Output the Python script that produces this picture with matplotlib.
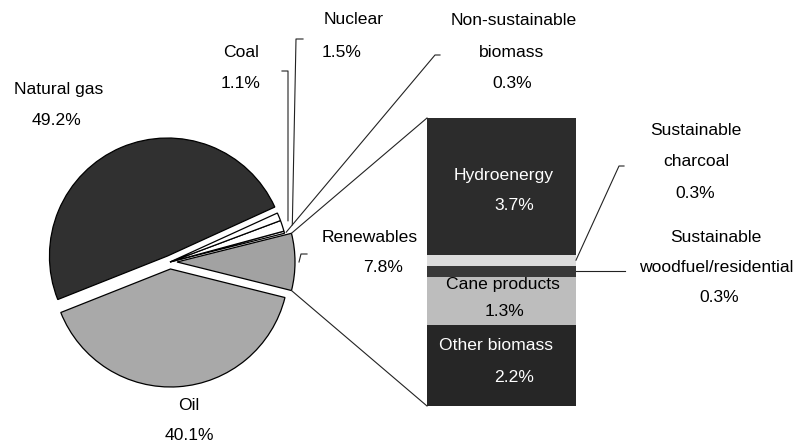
import numpy as np
import matplotlib
matplotlib.use('Agg')
import matplotlib.pyplot as plt

plt.rcParams['font.family'] = ['Liberation Sans', 'DejaVu Sans']

W, H = 798, 443

# pie slices, counter-clockwise starting with renewables
pie_labels = ['Renewables', 'Non-sustainable\nbiomass', 'Nuclear', 'Coal', 'Natural gas', 'Oil']
pie_values = [7.8, 0.3, 1.5, 1.1, 49.2, 40.1]
pie_colors = ['#a2a2a2', 'white', 'white', 'white', '#303030', '#a9a9a9']
pie_explode = [7, 0, 0, 0, 6.5, 7]   # offsets in pixels (pie radius is 118)

# renewables breakdown, bottom to top
bar_labels = ['Other biomass', 'Cane products', 'Sustainable\nwoodfuel/residential',
              'Sustainable\ncharcoal', 'Hydroenergy']
bar_values = [2.2, 1.3, 0.3, 0.3, 3.7]
bar_colors = ['#262626', '#bdbdbd', '#383838', '#dcdcdc', '#2c2c2c']


def px(x, y):
    # pixel position (y from top) -> data coords
    return x, H - y


fig = plt.figure(figsize=(W / 100, H / 100), dpi=100)
ax = fig.add_axes([0, 0, 1, 1])

wedges, _ = ax.pie(pie_values, colors=pie_colors, explode=pie_explode,
                   startangle=-14, counterclock=True, radius=118,
                   center=px(170, 262),
                   wedgeprops=dict(edgecolor='black', linewidth=0.9))

ax.set_xlim(0, W)
ax.set_ylim(0, H)
ax.set_aspect('auto')
ax.axis('off')


def rim(w, ang):
    cx, cy = w.center
    a = np.deg2rad(ang)
    return cx + w.r * np.cos(a), cy + w.r * np.sin(a)


# stacked bar for renewables
bar_x, bar_w = 501.5, 149
bar_top, bar_bot = 118, 406
scale = (bar_bot - bar_top) / sum(bar_values)
heights = np.array(bar_values) * scale
bottoms = (H - bar_bot) + np.concatenate([[0], np.cumsum(heights)[:-1]])
ax.bar(bar_x, heights, bottom=bottoms, width=bar_w, color=bar_colors,
       edgecolor='none')

left = bar_x - bar_w / 2
right = bar_x + bar_w / 2
ren = wedges[0]
lc = dict(color='#222222', lw=0.8)

# connectors pie -> bar
p_top = rim(ren, ren.theta2)
p_bot = rim(ren, ren.theta1)
ax.plot([p_top[0], left], [p_top[1], bottoms[-1] + heights[-1]], **lc)
ax.plot([p_bot[0], left], [p_bot[1], bottoms[0]], **lc)

# leaders for the small slices
ns = rim(wedges[1], (wedges[1].theta1 + wedges[1].theta2) / 2)
ax.plot([ns[0] + 2, 435, 440], [ns[1], H - 55, H - 55], **lc)
nu = rim(wedges[2], (wedges[2].theta1 + wedges[2].theta2) / 2)
ax.plot([nu[0] + 10, 296, 303], [nu[1] + 1, H - 39, H - 39], **lc)
co = rim(wedges[3], (wedges[3].theta1 + wedges[3].theta2) / 2)
ax.plot([co[0] + 9, 288, 288, 282], [co[1] - 4, H - 212, H - 71, H - 71], **lc)
ax.plot([299, 301, 307], [H - 262, H - 254, H - 254], **lc)

# leaders for the thin bar segments
ch_y = bottoms[3] + heights[3] / 2
wf_y = bottoms[2] + heights[2] / 2
ax.plot([right, 619, 624], [ch_y, H - 166, H - 166], **lc)
ax.plot([right, 625], [wf_y, wf_y], **lc)

fs = 12.6
# pie labels: (name pos, value pos)
pie_text_pos = [((370, 237), (383, 267)),
                ((514, 20), (512, 83)),
                ((354, 19), (342, 52)),
                ((241, 52), (241, 83)),
                ((59, 89), (57, 120)),
                ((189, 405), (189, 435))]
for lab, val, (p1, p2) in zip(pie_labels, pie_values, pie_text_pos):
    if '\n' in lab:
        a, b = lab.split('\n')
        ax.text(*px(*p1), a, ha='center', va='center', fontsize=fs)
        ax.text(*px(p2[0], p1[1] + 32), b, ha='center', va='center', fontsize=fs)
    else:
        ax.text(*px(*p1), lab, ha='center', va='center', fontsize=fs)
    ax.text(*px(*p2), f'{val}%', ha='center', va='center', fontsize=fs)

# bar labels
bar_text_pos = [((496, 345), (514, 378), 'white'),
                ((503, 285), (504, 312), 'black'),
                ((716, 237), (719, 297), 'black'),
                ((696, 130), (695, 193), 'black'),
                ((504, 175), (514, 205), 'white')]
for lab, val, (p1, p2, c) in zip(bar_labels, bar_values, bar_text_pos):
    if '\n' in lab:
        a, b = lab.split('\n')
        ax.text(*px(*p1), a, ha='center', va='center', fontsize=fs, color=c)
        ax.text(*px(p1[0], p1[1] + 31), b, ha='center', va='center', fontsize=fs, color=c)
    else:
        ax.text(*px(*p1), lab, ha='center', va='center', fontsize=fs, color=c)
    ax.text(*px(*p2), f'{val}%', ha='center', va='center', fontsize=fs, color=c)

fig.savefig('out.png', dpi=100)
